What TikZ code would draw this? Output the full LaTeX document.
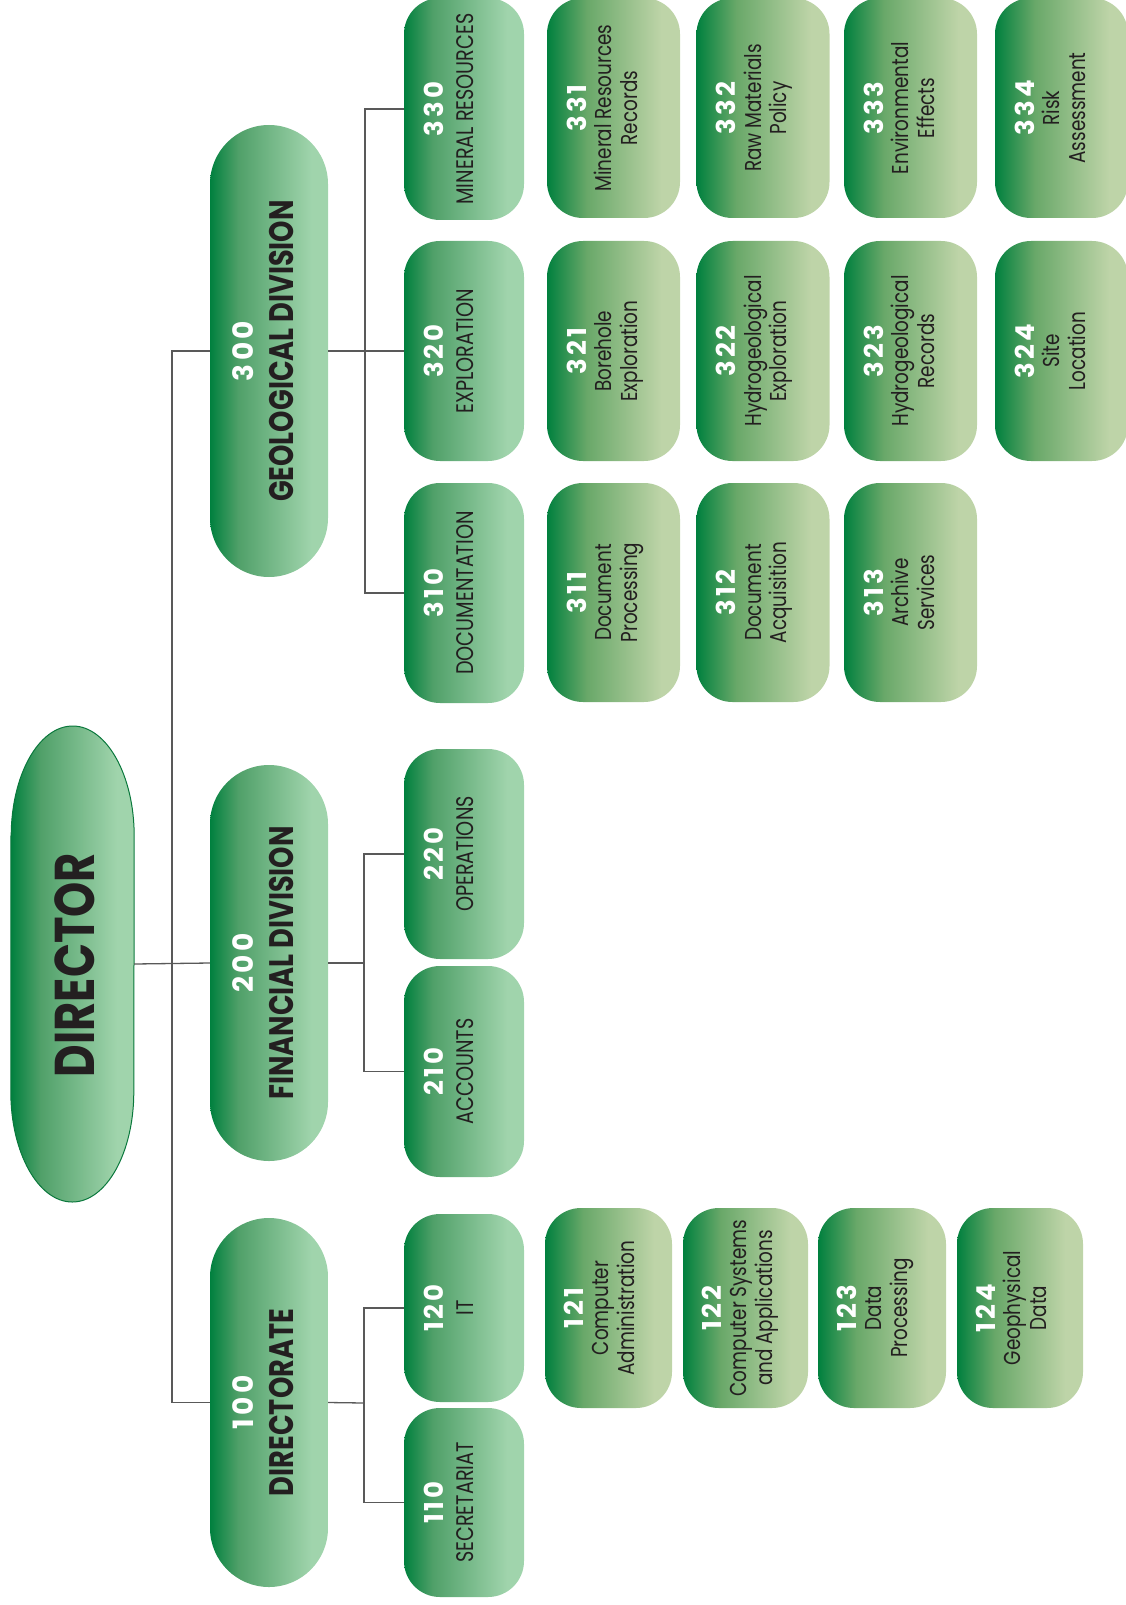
\documentclass[tikz,border=0pt]{standalone}
\usepackage{fontspec}
\setmainfont{Poppins}[FakeStretch=0.8]
\newfontfamily\numfont{Poppins}[FakeStretch=1.0,LetterSpace=12]
\usetikzlibrary{calc}
\definecolor{dkg}{RGB}{0,128,62}
\definecolor{mdg}{RGB}{80,160,105}
\definecolor{ltg}{RGB}{160,212,172}
\definecolor{mdt}{RGB}{105,168,105}
\definecolor{ltt}{RGB}{190,212,168}
\definecolor{txt}{RGB}{35,31,32}
\definecolor{edgeg}{RGB}{10,120,60}
\pgfdeclarehorizontalshading{grA}{100bp}{color(0bp)=(dkg); color(25bp)=(dkg); color(37bp)=(mdg); color(68bp)=(ltg); color(100bp)=(ltg)}
\pgfdeclarehorizontalshading{grB}{100bp}{color(0bp)=(dkg); color(25bp)=(dkg); color(40bp)=(mdt); color(68bp)=(ltt); color(100bp)=(ltt)}
\newcommand{\dnum}[1]{{\numfont\fontsize{28}{28}\selectfont\bfseries\color{white}#1}}
\newcommand{\snum}[1]{{\numfont\fontsize{26}{26}\selectfont\bfseries\color{white}#1}}
\tikzset{
  conn/.style={draw=black!65, line width=1.3pt},
  divbox/.style={rectangle, rounded corners=59pt, minimum width=118pt, shade, shading=grA, inner sep=0pt},
  subbox/.style={rectangle, rounded corners=36pt, minimum width=120pt, shade, shading=grA, inner sep=0pt},
  leafbox/.style={rectangle, rounded corners=36pt, shade, shading=grB, inner sep=0pt},
  divtxt/.style={rotate=90, anchor=north, align=center, inner sep=0pt, text=txt, font=\fontsize{34}{40}\selectfont\bfseries},
  subtxt/.style={rotate=90, anchor=north, align=center, inner sep=0pt, text=txt, font=\fontsize{24}{30}\selectfont},
  leaftxt/.style={rotate=90, anchor=north, align=center, inner sep=0pt, text=txt, font=\fontsize{23}{25.5}\selectfont},
}
\begin{document}
\begin{tikzpicture}[x=1pt,y=-1pt]
\useasboundingbox (0,0) rectangle (1125,1605);
% director
\node[minimum width=123pt, minimum height=476pt, inner sep=0pt] (dir) at (72.5,964) {};
\path[shade, shading=grA, draw=edgeg, line width=1pt] ([yshift=128pt]dir.west) -- ([yshift=-128pt]dir.west)
  arc[start angle=180, end angle=360, x radius=61.5pt, y radius=110pt]
  -- ([yshift=128pt]dir.east)
  arc[start angle=0, end angle=180, x radius=61.5pt, y radius=110pt] -- cycle;
\node[rotate=90, text=txt, font=\fontsize{56}{56}\selectfont\bfseries, inner sep=0pt] (tdir) at (75,965) {DIRECTOR};
% divisions
\node[divbox, minimum height=369pt] (d100) at (269,1402.5) {};
\node[divbox, minimum height=396pt] (d200) at (269,963) {};
\node[divbox, minimum height=452pt] (d300) at (269,351) {};
\node[divtxt] (t100) at ([xshift=23pt]d100.west) {\dnum{100}\\DIRECTORATE};
\node[divtxt] (t200) at ([xshift=23pt]d200.west) {\dnum{200}\\FINANCIAL DIVISION};
\node[divtxt] (t300) at ([xshift=23pt]d300.west) {\dnum{300}\\GEOLOGICAL DIVISION};
% level 2
\node[subbox, minimum height=189pt] (n110) at (464,1502.5) {};
\node[subbox, minimum height=188pt] (n120) at (464,1308) {};
\node[subbox, minimum height=211pt] (n210) at (464,1071.5) {};
\node[subbox, minimum height=210pt] (n220) at (464,854) {};
\node[subbox, minimum height=220pt] (n310) at (464,593) {};
\node[subbox, minimum height=220pt] (n320) at (464,351) {};
\node[subbox, minimum height=222pt] (n330) at (464,109) {};
\node[subtxt] (t110) at ([xshift=20pt]n110.west) {\snum{110}\\SECRETARIAT};
\node[subtxt] (t120) at ([xshift=20pt]n120.west) {\snum{120}\\IT};
\node[subtxt] (t210) at ([xshift=20pt]n210.west) {\snum{210}\\ACCOUNTS};
\node[subtxt] (t220) at ([xshift=20pt]n220.west) {\snum{220}\\OPERATIONS};
\node[subtxt] (t310) at ([xshift=20pt]n310.west) {\snum{310}\\DOCUMENTATION};
\node[subtxt] (t320) at ([xshift=20pt]n320.west) {\snum{320}\\EXPLORATION};
\node[subtxt] (t330) at ([xshift=20pt]n330.west) {\snum{330}\\MINERAL RESOURCES};
% level 3 under IT
\node[leafbox, minimum width=127pt, minimum height=200pt] (n121) at (608.5,1308) {};
\node[leafbox, minimum width=125pt, minimum height=200pt] (n122) at (745.5,1308) {};
\node[leafbox, minimum width=128pt, minimum height=200pt] (n123) at (882,1308) {};
\node[leafbox, minimum width=126pt, minimum height=200pt] (n124) at (1020,1308) {};
\node[leaftxt] (t121) at ([xshift=19pt]n121.west) {\snum{121}\\Computer\\Administration};
\node[leaftxt] (t122) at ([xshift=19pt]n122.west) {\snum{122}\\Computer Systems\\and Applications};
\node[leaftxt] (t123) at ([xshift=19pt]n123.west) {\snum{123}\\Data\\Processing};
\node[leaftxt] (t124) at ([xshift=19pt]n124.west) {\snum{124}\\Geophysical\\Data};
% level 3 under geological
\node[leafbox, minimum width=133pt, minimum height=219pt] (n311) at (613.5,592.5) {};
\node[leafbox, minimum width=133pt, minimum height=219pt] (n312) at (763,592.5) {};
\node[leafbox, minimum width=133pt, minimum height=219pt] (n313) at (910.5,592.5) {};
\node[leafbox, minimum width=133pt, minimum height=220pt] (n321) at (613.5,351) {};
\node[leafbox, minimum width=133pt, minimum height=220pt] (n322) at (763,351) {};
\node[leafbox, minimum width=133pt, minimum height=220pt] (n323) at (910.5,351) {};
\node[leafbox, minimum width=133pt, minimum height=220pt] (n324) at (1061.5,351) {};
\node[leafbox, minimum width=133pt, minimum height=220pt] (n331) at (613.5,108) {};
\node[leafbox, minimum width=133pt, minimum height=220pt] (n332) at (763,108) {};
\node[leafbox, minimum width=133pt, minimum height=220pt] (n333) at (910.5,108) {};
\node[leafbox, minimum width=133pt, minimum height=220pt] (n334) at (1061.5,108) {};
\node[leaftxt] (t311) at ([xshift=20pt]n311.west) {\snum{311}\\Document\\Processing};
\node[leaftxt] (t312) at ([xshift=20pt]n312.west) {\snum{312}\\Document\\Acquisition};
\node[leaftxt] (t313) at ([xshift=20pt]n313.west) {\snum{313}\\Archive\\Services};
\node[leaftxt] (t321) at ([xshift=20pt]n321.west) {\snum{321}\\Borehole\\Exploration};
\node[leaftxt] (t322) at ([xshift=20pt]n322.west) {\snum{322}\\Hydrogeological\\Exploration};
\node[leaftxt] (t323) at ([xshift=20pt]n323.west) {\snum{323}\\Hydrogeological\\Records};
\node[leaftxt] (t324) at ([xshift=20pt]n324.west) {\snum{324}\\Site\\Location};
\node[leaftxt] (t331) at ([xshift=20pt]n331.west) {\snum{331}\\Mineral Resources\\Records};
\node[leaftxt] (t332) at ([xshift=20pt]n332.west) {\snum{332}\\Raw Materials\\Policy};
\node[leaftxt] (t333) at ([xshift=20pt]n333.west) {\snum{333}\\Environmental\\Effects};
\node[leaftxt] (t334) at ([xshift=20pt]n334.west) {\snum{334}\\Risk\\Assessment};
% connectors
\coordinate (trunk) at (172,964);
\coordinate (b100) at (364,1403);
\coordinate (b200) at (364,963);
\coordinate (b300) at (365,351);
\draw[conn] (dir.east) -- (d200.west);
\draw[conn] (d300.west) -| (trunk) |- (d100.west);
\draw[conn] (d300.east) -- (n320.west);
\draw[conn] (n330.west) -| (b300) |- (n310.west);
\draw[conn] (d200.east) -- (b200);
\draw[conn] (n220.west) -| (b200) |- (n210.west);
\draw[conn] (d100.east) -- (b100);
\draw[conn] (n120.west) -| (b100) |- (n110.west);
\end{tikzpicture}
\end{document}
